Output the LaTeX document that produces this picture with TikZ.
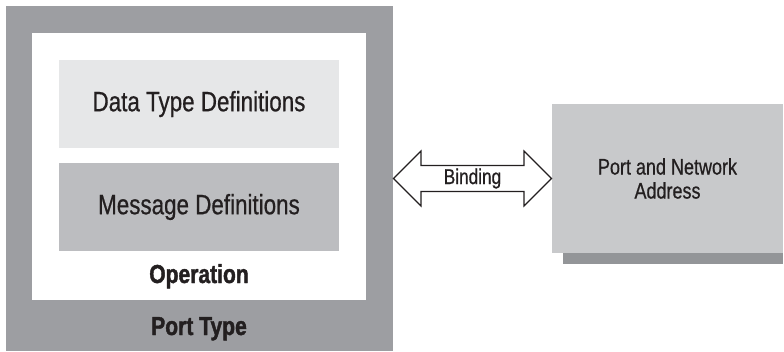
\documentclass[tikz,border=0pt]{standalone}
\usepackage{fontspec}
\setmainfont{Liberation Sans}[FakeStretch=0.8, FakeBold=0.6]
\newfontface\headfont{Liberation Sans Bold}[FakeStretch=0.81, FakeBold=1.5]
\usetikzlibrary{shapes.arrows, calc}

\definecolor{porttypegray}{HTML}{9D9EA2}
\definecolor{datagray}{HTML}{E6E7E8}
\definecolor{messagegray}{HTML}{BCBDC0}
\definecolor{addressgray}{HTML}{C8C9CB}
\definecolor{shadowgray}{HTML}{939598}
\definecolor{inkblack}{HTML}{231F20}

\begin{document}
\begin{tikzpicture}[
            x = 1pt, y = -1pt, % pixel grid, y downwards
            every node/.style = {inner sep = 0pt, outer sep = 0pt, text = inkblack},
            panel/.style = {rectangle, draw = none},
            bigtext/.style = {font = \fontsize{28}{32}\selectfont},
            boldtext/.style = {font = \headfont\fontsize{26}{30}\selectfont}
        ]

        \useasboundingbox (0,0) rectangle (784,351);

        % left block
        \node[panel, fill = porttypegray, minimum width = 387pt, minimum height = 345pt] (porttype) at (199.5,178.5) {};
        \node[panel, fill = white, minimum width = 334pt, minimum height = 267pt] (operation) at (199,166.5) {};
        \node[panel, fill = datagray, minimum width = 280pt, minimum height = 88pt, bigtext] (datatype) at (199,104) {Data Type Definitions};
        \node[panel, fill = messagegray, minimum width = 280pt, minimum height = 88pt, bigtext] (message) at (199,207) {Message Definitions};
        \node[boldtext, anchor = base] (oplabel) at (199,283) {Operation};
        \node[boldtext, anchor = base] (ptlabel) at (199,335) {Port Type};

        % right block
        \node[panel, fill = shadowgray, minimum width = 220pt, minimum height = 149pt] (shadow) at (673,189.5) {};
        \node[panel, fill = addressgray, minimum width = 231pt, minimum height = 149pt,
              align = center, font = \fontsize{22.5}{24}\selectfont] (address) at (667.5,178.5) {Port and Network\\Address};

        % binding
        \node[double arrow, draw = inkblack, line width = 1.2pt, fill = white,
              minimum height = 158pt, minimum width = 55pt, double arrow head extend = 12pt,
              font = \fontsize{21.5}{24}\selectfont] (binding)
              at ($(porttype.east)!0.5!(address.west)$) {Binding};

    \end{tikzpicture}
\end{document}
